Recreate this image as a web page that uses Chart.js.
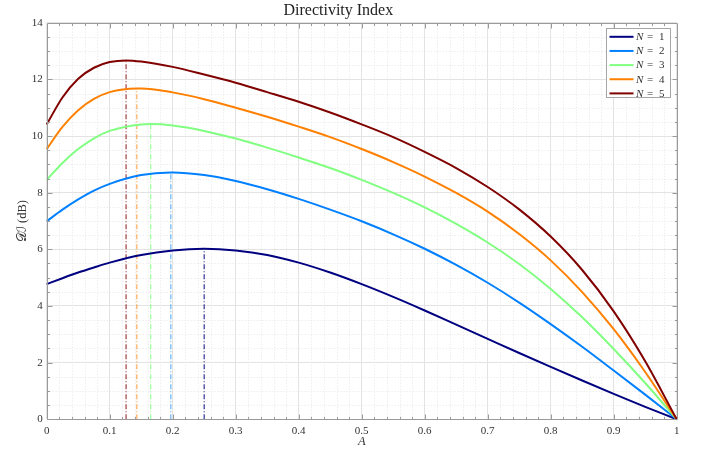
<!DOCTYPE html>
<html lang="en">
<head>
<meta charset="UTF-8">
<title>Directivity Index</title>
<style>
    body {
        margin: 0;
        background: #fff;
        overflow: hidden;
    }
    #chart { display: block; }
</style>
</head>
<body>
<canvas id="chart" width="701" height="451"></canvas>
<script src="https://cdn.jsdelivr.net/npm/chart.js"></script>
<script>
    // values (A on x, DI in dB on y)
    const A = [0, 0.025, 0.05, 0.075, 0.1, 0.15, 0.2, 0.25, 0.3, 0.35, 0.4, 0.45, 0.5,
               0.55, 0.6, 0.65, 0.7, 0.75, 0.8, 0.85, 0.9, 0.95, 1];
    const di1 = [4.77, 4.98, 5.18, 5.36, 5.53, 5.80, 5.96, 6.02, 5.96, 5.80, 5.53, 5.18, 4.77,
                 4.32, 3.84, 3.34, 2.84, 2.34, 1.85, 1.37, 0.90, 0.44, 0];
    const di2 = [6.99, 7.40, 7.76, 8.07, 8.31, 8.62, 8.71, 8.62, 8.41, 8.12, 7.78, 7.40, 6.99,
                 6.53, 6.02, 5.45, 4.82, 4.12, 3.36, 2.56, 1.72, 0.87, 0];
    const di3 = [8.45, 9.05, 9.54, 9.92, 10.18, 10.41, 10.37, 10.18, 9.91, 9.59, 9.24, 8.87, 8.45,
                 7.99, 7.48, 6.90, 6.24, 5.48, 4.60, 3.60, 2.48, 1.28, 0];
    const di4 = [9.54, 10.32, 10.91, 11.31, 11.55, 11.68, 11.54, 11.30, 11.00, 10.68, 10.33, 9.96, 9.54,
                 9.08, 8.57, 7.99, 7.33, 6.54, 5.61, 4.49, 3.18, 1.67, 0];
    const di5 = [10.41, 11.36, 12.02, 12.41, 12.61, 12.63, 12.44, 12.17, 11.88, 11.55, 11.21, 10.83, 10.41,
                 9.96, 9.44, 8.87, 8.20, 7.41, 6.45, 5.27, 3.81, 2.05, 0];

    // maxima, marked with the dash-dot lines
    const peakA = [0.25, 0.197, 0.165, 0.143, 0.126];
    const peakDI = [6.02, 8.71, 10.42, 11.68, 12.67];

    const orders = [1, 2, 3, 4, 5];
    const colors = ['rgb(0,0,128)', 'rgb(0,128,255)', 'rgb(128,255,128)', 'rgb(255,128,0)', 'rgb(128,0,0)'];
    const dashColors = ['rgba(0,0,128,0.75)', 'rgba(0,128,255,0.55)', 'rgba(128,255,128,0.75)',
                        'rgba(255,128,0,0.6)', 'rgba(128,0,0,0.7)'];

    const xTicks = [0, 0.1, 0.2, 0.3, 0.4, 0.5, 0.6, 0.7, 0.8, 0.9, 1];
    const xTickLabels = ['0', '0.1', '0.2', '0.3', '0.4', '0.5', '0.6', '0.7', '0.8', '0.9', '1'];
    const yTicks = [0, 2, 4, 6, 8, 10, 12, 14];

    const curves = [di1, di2, di3, di4, di5];
    const serif = "'Liberation Serif', 'DejaVu Serif', 'DejaVu Sans', serif";
    const textColor = '#333';
    const axisColor = '#9a9a9a';

    function curvePoints(values, pa, pd) {
        const pts = A.map((a, i) => ({x: a, y: values[i]}));
        if (!A.includes(pa)) pts.push({x: pa, y: pd});
        return pts.sort((p, q) => p.x - q.x);
    }

    const datasets = [];
    orders.forEach((n, i) => {
        datasets.push({
            label: `N = ${n}`,
            inLegend: true,
            data: curvePoints(curves[i], peakA[i], peakDI[i]),
            borderColor: colors[i],
            borderWidth: 2,
            pointRadius: 0,
            cubicInterpolationMode: 'monotone',
            clip: false,
            order: 10 - n
        });
    });
    orders.forEach((n, i) => {
        datasets.push({
            label: `max ${n}`,
            data: [{x: peakA[i], y: 0}, {x: peakA[i], y: peakDI[i]}],
            borderColor: dashColors[i],
            borderWidth: 1.3,
            borderDash: [5, 2, 1, 2],
            pointRadius: 0,
            clip: false,
            order: 20
        });
    });

    // minor grid, box with inward ticks, like the matlab axes
    const matlabAxes = {
        id: 'matlabAxes',
        beforeDatasetsDraw(chart) {
            const {ctx, chartArea: ca, scales: {x, y}} = chart;
            ctx.save();
            ctx.strokeStyle = '#e6e6e6';
            ctx.lineWidth = 1;
            ctx.setLineDash([1, 2]);
            ctx.beginPath();
            for (let i = 1; i < 50; i++) {
                if (i % 5 === 0) continue;
                const px = Math.round(x.getPixelForValue(i / 50)) + 0.5;
                ctx.moveTo(px, ca.top);
                ctx.lineTo(px, ca.bottom);
            }
            for (let i = 1; i < 28; i++) {
                if (i % 4 === 0) continue;
                const py = Math.round(y.getPixelForValue(i / 2)) + 0.5;
                ctx.moveTo(ca.left, py);
                ctx.lineTo(ca.right, py);
            }
            ctx.stroke();
            ctx.restore();
        },
        afterDatasetsDraw(chart) {
            const {ctx, chartArea: ca, scales: {x, y}} = chart;
            const L = Math.round(ca.left) + 0.5, R = Math.round(ca.right) + 0.5;
            const T = Math.round(ca.top) + 0.5, B = Math.round(ca.bottom) + 0.5;
            ctx.save();
            ctx.strokeStyle = axisColor;
            ctx.lineWidth = 1;
            ctx.beginPath();
            ctx.rect(L, T, R - L, B - T);
            for (let i = 1; i < 50; i++) {
                const len = i % 5 === 0 ? 5 : 2.5;
                const px = Math.round(x.getPixelForValue(i / 50)) + 0.5;
                ctx.moveTo(px, B); ctx.lineTo(px, B - len);
                ctx.moveTo(px, T); ctx.lineTo(px, T + len);
            }
            for (let i = 1; i < 28; i++) {
                const len = i % 4 === 0 ? 5 : 2.5;
                const py = Math.round(y.getPixelForValue(i / 2)) + 0.5;
                ctx.moveTo(L, py); ctx.lineTo(L + len, py);
                ctx.moveTo(R, py); ctx.lineTo(R - len, py);
            }
            ctx.stroke();
            ctx.restore();
        }
    };

    const legendBox = {
        id: 'legendBox',
        afterDraw(chart) {
            const {ctx, chartArea: ca} = chart;
            const items = chart.data.datasets.filter(d => d.inLegend);
            const bx = Math.round(ca.right - 70.5) + 0.5, by = Math.round(ca.top + 5.5) + 0.5;
            const w = 64, h = 69, rowH = 14.15;
            ctx.save();
            ctx.fillStyle = '#fff';
            ctx.fillRect(bx, by, w, h);
            ctx.strokeStyle = '#a6a6a6';
            ctx.lineWidth = 1;
            ctx.strokeRect(bx, by, w, h);
            items.forEach((d, i) => {
                const yy = by + 8.3 + i * rowH;
                const parts = d.label.split(' = ');
                ctx.strokeStyle = d.borderColor;
                ctx.lineWidth = 2;
                ctx.beginPath();
                ctx.moveTo(bx + 3, yy);
                ctx.lineTo(bx + 27, yy);
                ctx.stroke();
                ctx.fillStyle = textColor;
                ctx.textBaseline = 'middle';
                ctx.textAlign = 'left';
                ctx.font = `italic 11px ${serif}`;
                ctx.fillText(parts[0], bx + 29.5, yy + 0.5);
                ctx.font = `11px ${serif}`;
                ctx.fillText('=', bx + 40.5, yy + 0.5);
                ctx.fillText(parts[1], bx + 52.5, yy + 0.5);
            });
            ctx.restore();
        }
    };

    new Chart(document.getElementById('chart'), {
        type: 'line',
        data: {datasets},
        options: {
            responsive: false,
            animation: false,
            devicePixelRatio: 1,
            layout: {padding: {left: 0, top: 0, right: 24.3, bottom: 0}},
            plugins: {
                legend: {display: false},
                tooltip: {enabled: false},
                title: {
                    display: true,
                    text: 'Directivity Index',
                    color: '#222',
                    font: {family: serif, size: 16, weight: 'normal', lineHeight: 1.2},
                    padding: {top: 1.5, bottom: 2}
                }
            },
            scales: {
                x: {
                    type: 'linear',
                    min: 0,
                    max: 1,
                    afterBuildTicks: (s) => { s.ticks = xTicks.map(v => ({value: v})); },
                    afterFit: (s) => { s.height = 31.7; },
                    ticks: {
                        callback: (v, i) => xTickLabels[i],
                        color: textColor,
                        font: {family: serif, size: 11},
                        padding: 5,
                        maxRotation: 0
                    },
                    grid: {color: '#e3e3e3', drawTicks: false},
                    border: {display: false},
                    title: {
                        display: true,
                        text: 'A',
                        color: textColor,
                        font: {family: serif, size: 12.5, style: 'italic', lineHeight: 1.2},
                        padding: {top: 0, bottom: 2}
                    }
                },
                y: {
                    type: 'linear',
                    min: 0,
                    max: 14,
                    afterBuildTicks: (s) => { s.ticks = yTicks.map(v => ({value: v})); },
                    afterFit: (s) => { s.width = 46.7; },
                    ticks: {
                        color: textColor,
                        font: {family: serif, size: 11},
                        padding: 4
                    },
                    grid: {color: '#e3e3e3', drawTicks: false},
                    border: {display: false},
                    title: {
                        display: true,
                        text: '𝒟ℐ (dB)',
                        color: textColor,
                        font: {family: serif, size: 12.5, lineHeight: 1.2},
                        padding: {top: 15.5, bottom: 0}
                    }
                }
            }
        },
        plugins: [matlabAxes, legendBox]
    });
</script>
</body>
</html>
